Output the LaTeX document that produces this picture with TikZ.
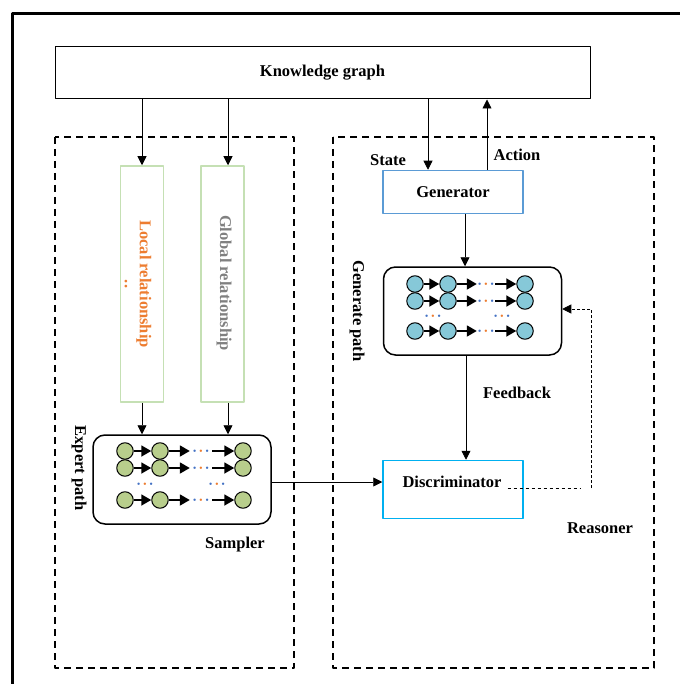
\documentclass[tikz,border=0pt]{standalone}
\usepackage{fontspec}
\setmainfont{Liberation Serif}
\usetikzlibrary{arrows.meta}
\definecolor{relgreen}{RGB}{197,224,180}
\definecolor{localorange}{RGB}{237,125,49}
\definecolor{globalgray}{RGB}{128,128,128}
\definecolor{genblue}{RGB}{91,155,213}
\definecolor{discyan}{RGB}{0,176,240}
\definecolor{expertgreen}{RGB}{184,206,140}
\definecolor{pathblue}{RGB}{134,200,216}
\definecolor{ellblue}{RGB}{68,114,196}
\newcommand{\rowdots}{\textcolor{ellblue}{$\bullet$}\hspace{2.5pt}\textcolor{localorange}{$\bullet$}\hspace{2.5pt}\textcolor{ellblue}{$\bullet$}}

\begin{document}
\begin{tikzpicture}[x=1pt, y=-1pt, line join=bevel,
        labeltext/.style={font=\bfseries\fontsize{16.5}{18}\selectfont, inner sep=0pt},
        plainbox/.style={draw=black, line width=1pt, labeltext},
        groupbox/.style={draw=black, line width=1.5pt, dash pattern=on 7pt off 5pt},
        relbox/.style={draw=relgreen, line width=1.5pt, minimum width=43pt, minimum height=236pt, inner sep=0pt},
        colorbox/.style={line width=1.5pt, minimum width=140pt, labeltext},
        pathbox/.style={draw=black, line width=1.5pt, rounded corners=12pt, minimum width=178pt, minimum height=88pt},
        expertnode/.style={shape=circle, fill=expertgreen, draw=black, line width=1pt, minimum size=16.5pt, inner sep=0pt},
        pathnode/.style={shape=circle, fill=pathblue, draw=black, line width=1pt, minimum size=16.5pt, inner sep=0pt},
        dotsnode/.style={inner sep=0pt, minimum width=22pt, minimum height=6pt, font=\fontsize{5}{5}\selectfont},
        link/.style={-{Triangle[length=10pt,width=11pt]}, line width=1.8pt},
        flow/.style={-{Triangle[length=9pt,width=9pt]}, line width=0.8pt}]
        \useasboundingbox (0,0) rectangle (680,684);
        % outer frame
        \draw[line width=3pt] (12.5,684) -- (12.5,13.5) -- (680,13.5);
        % knowledge graph
        \node[plainbox, minimum width=535pt, minimum height=52pt] (kg) at (322.5,73) {Knowledge graph};
        % groups
        \draw[groupbox] (55,137) rectangle (294,668);
        \draw[groupbox] (333,137) rectangle (654,668);
        % relationship boxes
        \node[relbox] (local) at (142,284) {};
        \node[relbox] (global) at (222.5,284) {};
        \node[labeltext, text=localorange, rotate=-90, align=center] (localtxt) at (138,284) {Local relationship\\[-3pt]..};
        \node[labeltext, text=globalgray, rotate=-90] (globaltxt) at (224,283) {Global relationship};
        % sampler
        \node[pathbox, minimum height=89pt] (sampler) at (182,479.5) {};
        \node[labeltext, rotate=-90] (expertlbl) at (79,468) {Expert path};
        \node[labeltext] (samplerlbl) at (235,545) {Sampler};
        \foreach \r/\y in {a/451, b/468, c/500} {
          \node[expertnode] (e\r1) at (125,\y) {};
          \node[expertnode] (e\r2) at (160,\y) {};
          \node[dotsnode] (e\r d) at (201,\y) {\rowdots};
          \node[expertnode] (e\r3) at (243,\y) {};
          \draw[link] (e\r1) -- (e\r2);
          \draw[link] (e\r2) -- (e\r d);
          \draw[link] (e\r d) -- (e\r3);
        }
        \node[dotsnode] (evl) at (145,484) {\rowdots};
        \node[dotsnode] (evr) at (217,484) {\rowdots};
        % reasoner
        \node[colorbox, draw=genblue, minimum height=43pt] (gen) at (453,192) {Generator};
        \node[colorbox, draw=discyan, minimum height=58pt] (disc) at (453,489.5) {};
        \node[labeltext] (disctxt) at (452,481.5) {Discriminator};
        \node[pathbox] (genpath) at (472.5,311) {};
        \node[labeltext, rotate=-90] (genlbl) at (357,311) {Generate path};
        \foreach \r/\y in {a/284, b/301, c/331} {
          \node[pathnode] (p\r1) at (415,\y) {};
          \node[pathnode] (p\r2) at (448,\y) {};
          \node[dotsnode, minimum width=18pt] (p\r d) at (486,\y) {\rowdots};
          \node[pathnode] (p\r3) at (525,\y) {};
          \draw[link] (p\r1) -- (p\r2);
          \draw[link] (p\r2) -- (p\r d);
          \draw[link] (p\r d) -- (p\r3);
        }
        \node[dotsnode] (pvl) at (433,316) {\rowdots};
        \node[dotsnode] (pvr) at (502,316) {\rowdots};
        \node[labeltext] (statelbl) at (388,160) {State};
        \node[labeltext] (actionlbl) at (517,155) {Action};
        \node[labeltext] (feedbacklbl) at (517,393) {Feedback};
        \node[labeltext] (reasonerlbl) at (600,528) {Reasoner};
        % connectors
        \draw[flow] (kg.south -| local.north) -- (local.north);
        \draw[flow] (kg.south -| 228,0) -- (228,0 |- global.north);
        \draw[flow] (local.south) -- (local.south |- sampler.north);
        \draw[flow] (228,0 |- global.south) -- (228,0 |- sampler.north);
        \draw[flow] (kg.south -| 428,0) -- (428,0 |- gen.north);
        \draw[flow] (487,0 |- gen.north) -- (487,0 |- kg.south);
        \draw[flow] (465,0 |- gen.south) -- (465,0 |- genpath.north);
        \draw[flow] (466,0 |- genpath.south) -- (466,0 |- disc.north);
        \draw[flow] (sampler.east |- 0,482) -- (disc.west |- 0,482);
        \coordinate (fbcorner) at (591,488);
        \draw[dashed, line width=0.8pt] ([xshift=6pt]disctxt.east |- fbcorner) -- ([xshift=-10pt]fbcorner);
        \draw[flow, densely dashed, line width=0.6pt] (fbcorner) -- (fbcorner |- 0,309) -- (genpath.east |- 0,309);
\end{tikzpicture}
\end{document}
